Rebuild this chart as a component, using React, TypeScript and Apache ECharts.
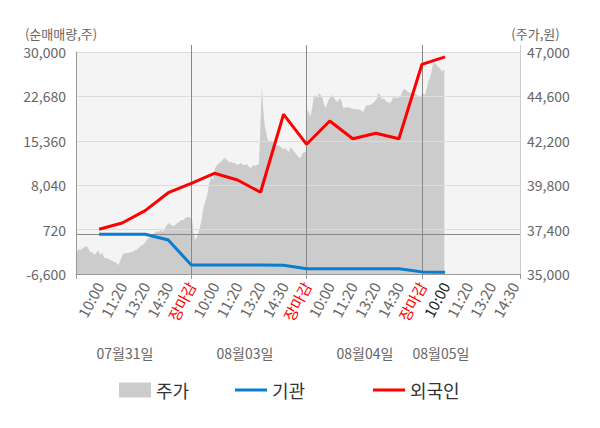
import React, { useEffect, useRef } from 'react';
import * as echarts from 'echarts';

const FONT = "'Noto Sans CJK KR', 'Noto Sans', sans-serif";

// x axis: evenly spaced time-label slots (5 per trading day)
const tickLabels = [
  '10:00', '11:20', '13:20', '14:30', '장마감',
  '10:00', '11:20', '13:20', '14:30', '장마감',
  '10:00', '11:20', '13:20', '14:30', '장마감',
  '10:00', '11:20', '13:20', '14:30',
];
const currentDayFirstLabel = 15; // index of the black "10:00"
const dayBoundaries = [5, 10, 15];
const xMax = 19.25;

const dateLabels = ['07월31일', '08월03일', '08월04일', '08월05일'];

const leftTicks = [-6600, 720, 8040, 15360, 22680, 30000];
const rightTicks = [35000, 37400, 39800, 42200, 44600, 47000];

// net buying (shares) at each label slot
const flowSlots = [1, 2, 3, 4, 5, 6, 7, 8, 9, 10, 11, 12, 13, 14, 15, 16];
const foreignNet = [770, 1800, 3840, 6800, 8350, 10000, 8900, 6870, 19730, 14780, 18620, 15700, 16600, 15700, 27970, 29200];
const institutionNet = [-50, -50, -50, -1000, -5120, -5120, -5120, -5120, -5150, -5730, -5730, -5730, -5730, -5730, -6250, -6320];

// share price (won), sampled along the slot axis
const priceSlots = [
  0.00, 0.09, 0.18, 0.31, 0.44, 0.53, 0.61, 0.70, 0.79, 0.88, 0.96, 1.05, 1.14, 1.23, 1.32, 1.40, 1.49, 1.58, 1.67, 1.75,
  1.84, 1.93, 2.02, 2.11, 2.19, 2.28, 2.37, 2.46, 2.54, 2.63, 2.72, 2.81, 2.89, 2.98, 3.07, 3.16, 3.25, 3.33, 3.42, 3.51,
  3.60, 3.68, 3.77, 3.86, 3.95, 4.04, 4.12, 4.21, 4.30, 4.39, 4.47, 4.56, 4.65, 4.74, 4.82, 4.91, 4.98,
  5.04, 5.09, 5.17, 5.26, 5.34, 5.43, 5.52, 5.60, 5.69, 5.78, 5.86, 5.95, 6.03, 6.12, 6.21, 6.29, 6.38, 6.47, 6.55, 6.64,
  6.72, 6.81, 6.90, 6.98, 7.07, 7.16, 7.24, 7.33, 7.41, 7.50, 7.59, 7.67, 7.76, 7.84, 7.93, 7.97, 8.02, 8.06, 8.10, 8.15,
  8.19, 8.23, 8.28, 8.36, 8.45, 8.53, 8.62, 8.71, 8.79, 8.88, 8.97, 9.05, 9.14, 9.22, 9.31, 9.40, 9.48, 9.57, 9.66, 9.74,
  9.83, 9.91, 9.96,
  10.04, 10.09, 10.17, 10.26, 10.30, 10.39, 10.47, 10.52, 10.60, 10.69, 10.73, 10.82, 10.91, 10.95, 11.03, 11.12, 11.16,
  11.25, 11.34, 11.38, 11.47, 11.55, 11.59, 11.77, 11.90, 12.03, 12.20, 12.33, 12.46, 12.54, 12.63, 12.76, 12.89, 13.06,
  13.10, 13.19, 13.28, 13.32, 13.49, 13.62, 13.71, 13.75, 13.92, 14.05, 14.18, 14.27, 14.35, 14.48, 14.61, 14.78, 14.91,
  15.04, 15.13, 15.22, 15.26, 15.35, 15.43, 15.48, 15.56, 15.65, 15.69, 15.78, 15.87, 15.91, 15.97,
];
const priceValues = [
  35970, 36350, 36300, 36410, 36510, 36410, 36190, 36190, 36030, 36140, 36300, 36030, 36140, 35860, 35860, 35810, 35760, 35700, 35650, 35590,
  35490, 35760, 36030, 36140, 36140, 36140, 36190, 36190, 36300, 36300, 36410, 36510, 36570, 36680, 36840, 36950, 37000, 37160, 37220, 37320,
  37270, 37380, 37270, 37490, 37650, 37760, 37650, 37590, 37650, 37760, 37810, 37920, 37920, 38030, 38080, 38080, 38000,
  37860, 37220, 36840, 37050, 37380, 37810, 38570, 38890, 39270, 39920, 40240, 40080, 40730, 40890, 41000, 41050, 41220, 41270, 41160, 41050,
  41050, 41000, 41000, 40890, 40950, 41000, 40890, 40890, 40950, 40780, 40730, 40890, 40840, 40890, 40950, 42080, 44030, 45110, 44240, 43490,
  42950, 42780, 42410, 42140, 42240, 42140, 42030, 41920, 41970, 41860, 41760, 41810, 41700, 41590, 41860, 41700, 41590, 41430, 41320, 41270,
  41540, 41590, 41590,
  43860, 43760, 43490, 44140, 44570, 44680, 44510, 44780, 44680, 44510, 44240, 43970, 44240, 44410, 44570, 44680, 44570,
  44410, 44300, 44410, 44510, 44140, 43970, 44030, 43970, 43920, 43920, 43860, 43760, 44030, 44140, 44140, 44240, 44510,
  44780, 44680, 44410, 44510, 44300, 44240, 44410, 44570, 44510, 44570, 44950, 45000, 44890, 44780, 44840, 44680, 44570,
  44780, 44680, 45110, 45380, 45590, 46030, 46350, 46410, 46300, 46190, 46140, 45920, 46030, 46030,
];

const dateLabelX = [125, 245, 365, 441];

const fmt = (v: number) => v.toLocaleString('en-US');

export default function App() {
  const ref = useRef<HTMLDivElement>(null);

  useEffect(() => {
    if (!ref.current) return;
    const chart = echarts.init(ref.current, undefined, { renderer: 'svg' });

    const labelPositions = tickLabels.map((_, i) => i + 1);

    const baseX = {
      type: 'value',
      min: 0,
      max: xMax,
      gridIndex: 0,
      splitLine: { show: false },
    };

    const legendCommon = {
      top: 376,
      itemWidth: 32,
      selectedMode: false,
      textStyle: { fontSize: 18, color: '#333', fontFamily: FONT },
      itemStyle: { borderWidth: 0 },
    };

    const option: any = {
      animation: false,
      textStyle: { fontFamily: FONT },
      grid: {
        left: 76,
        right: 80,
        top: 52,
        bottom: 154,
        show: true,
        backgroundColor: '#f4f4f4',
        borderWidth: 0,
        containLabel: false,
        outerBoundsMode: 'none',
      },
      xAxis: [
        {
          ...baseX,
          position: 'bottom',
          z: 2,
          axisLine: { show: true, onZero: false, lineStyle: { color: '#999', width: 1 } },
          axisTick: { show: true, customValues: [0, ...dayBoundaries, xMax], length: 5, lineStyle: { color: '#999' } },
          axisLabel: {
            customValues: labelPositions,
            rotate: 62,
            margin: 9,
            fontSize: 15,
            color: '#666',
            fontFamily: FONT,
            formatter: (v: number) => {
              const i = Math.round(v) - 1;
              const t = tickLabels[i];
              if (t === undefined) return '';
              if (t === '장마감') return `{r|${t}}`;
              if (i === currentDayFirstLabel) return `{k|${t}}`;
              return t;
            },
            rich: {
              r: { color: '#ff0000', fontSize: 15, fontFamily: FONT },
              k: { color: '#222', fontSize: 15, fontFamily: FONT },
            },
          },
        },
        {
          ...baseX,
          position: 'top',
          axisLine: { show: false, onZero: false },
          axisLabel: { show: false },
          axisTick: { show: true, customValues: dayBoundaries, length: 7, lineStyle: { color: '#888' } },
        },
        {
          ...baseX,
          position: 'top',
          axisLine: { show: false, onZero: false },
          axisLabel: { show: false },
          axisTick: { show: true, customValues: [xMax], length: 7, lineStyle: { color: '#ccc' } },
        },
      ],
      yAxis: [
        {
          type: 'value',
          position: 'left',
          min: leftTicks[0],
          max: leftTicks[leftTicks.length - 1],
          interval: leftTicks[1] - leftTicks[0],
          z: 2,
          axisLine: { show: true, onZero: false, lineStyle: { color: '#999' } },
          axisTick: { show: false },
          axisLabel: { fontSize: 14, color: '#666', margin: 10, fontFamily: FONT, formatter: fmt },
          splitLine: { show: true, lineStyle: { color: '#dcdcdc', width: 1 } },
          name: '(순매매량,주)',
          nameLocation: 'end',
          nameGap: 19,
          nameTextStyle: { fontSize: 13, color: '#666', align: 'center', verticalAlign: 'middle', padding: [0, 30, 0, 0], fontFamily: FONT },
        },
        {
          type: 'value',
          position: 'right',
          min: rightTicks[0],
          max: rightTicks[rightTicks.length - 1],
          interval: rightTicks[1] - rightTicks[0],
          z: 2,
          axisLine: { show: true, onZero: false, lineStyle: { color: '#ccc' } },
          axisTick: { show: false },
          axisLabel: { fontSize: 14, color: '#666', margin: 7, fontFamily: FONT, formatter: fmt },
          splitLine: { show: false },
          name: '(주가,원)',
          nameLocation: 'end',
          nameGap: 19,
          nameTextStyle: { fontSize: 13, color: '#666', align: 'center', verticalAlign: 'middle', padding: [0, 0, 0, 31], fontFamily: FONT },
        },
      ],
      legend: [
        { ...legendCommon, left: 114, itemHeight: 15, data: [{ name: '주가', icon: 'rect', itemStyle: { color: '#cccccc', borderWidth: 0 } }] },
        { ...legendCommon, left: 230, itemHeight: 3, data: [{ name: '기관', icon: 'rect', itemStyle: { color: '#0a7dcf', borderWidth: 0 } }] },
        { ...legendCommon, left: 368, itemHeight: 3, data: [{ name: '외국인', icon: 'rect', itemStyle: { color: '#ff0000', borderWidth: 0 } }] },
      ],
      graphic: dateLabels.map((t, i) => ({
        type: 'text',
        x: dateLabelX[i],
        y: 353,
        silent: true,
        style: { text: t, fill: '#666', fontSize: 14, fontFamily: FONT, align: 'center', verticalAlign: 'middle' },
      })),
      series: [
        {
          name: '주가',
          type: 'line',
          xAxisIndex: 0,
          yAxisIndex: 1,
          z: 1,
          color: '#cccccc',
          showSymbol: false,
          symbol: 'none',
          lineStyle: { width: 0 },
          areaStyle: { color: '#cccccc', opacity: 1, origin: 'start' },
          data: priceSlots.map((s, i) => [s, priceValues[i]]),
        },
        {
          name: '기관',
          type: 'line',
          xAxisIndex: 0,
          yAxisIndex: 0,
          z: 3,
          color: '#0a7dcf',
          showSymbol: false,
          symbol: 'none',
          lineStyle: { width: 3, color: '#0a7dcf' },
          data: flowSlots.map((s, i) => [s, institutionNet[i]]),
          markLine: {
            silent: true,
            z: 2,
            symbol: ['none', 'none'],
            label: { show: false },
            lineStyle: { color: '#888', width: 1, type: 'solid' },
            emphasis: { disabled: true },
            data: [{ yAxis: 0 }, ...dayBoundaries.map((d) => ({ xAxis: d }))],
          },
        },
        {
          name: '외국인',
          type: 'line',
          xAxisIndex: 0,
          yAxisIndex: 0,
          z: 3,
          color: '#ff0000',
          showSymbol: false,
          symbol: 'none',
          lineStyle: { width: 3, color: '#ff0000' },
          data: flowSlots.map((s, i) => [s, foreignNet[i]]),
        },
      ],
    };

    chart.setOption(option);
    return () => chart.dispose();
  }, []);

  return <div ref={ref} style={{ position: 'absolute', left: 0, top: 0, width: 600, height: 428 }} />;
}
